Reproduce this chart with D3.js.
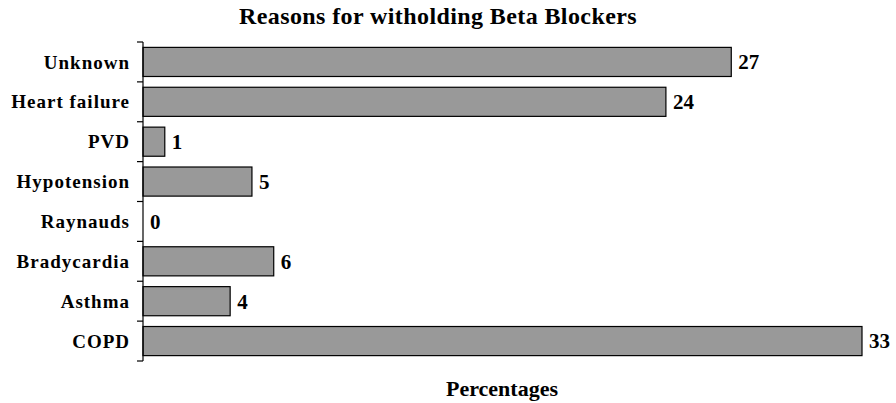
<!DOCTYPE html>
<html>
<head>
<meta charset="utf-8">
<script src="https://cdn.jsdelivr.net/npm/d3@7"></script>
<style>
  body { margin: 0; background: #fff; }
  svg text { font-family: "Liberation Serif", "Times New Roman", serif; font-weight: bold; fill: #000; }
</style>
</head>
<body>
<svg id="chart" width="896" height="403"></svg>
<script>
let categories = ['Unknown', 'Heart failure', 'PVD', 'Hypotension', 'Raynauds', 'Bradycardia', 'Asthma', 'COPD'];
let values = [27, 24, 1, 5, 0, 6, 4, 33];

let svg = d3.select('#chart');
let padding = {t: 42, r: 34, b: 42, l: 143};
let chartWidth = 862 - padding.l;
let chartHeight = 361 - padding.t;

let xScale = d3.scaleLinear().domain([0, 33]).range([0, chartWidth]);
let yScale = d3.scaleBand().domain(categories).range([0, chartHeight]).paddingInner(0.27).paddingOuter(0.135);

let g = svg.append('g')
    .attr('transform', `translate(${padding.l}, ${padding.t})`);

// bars
g.selectAll('rect.bar')
    .data(values)
    .enter()
    .append('rect')
    .attr('class', 'bar')
    .attr('x', 0)
    .attr('y', (d, i) => yScale(categories[i]))
    .attr('width', d => xScale(d))
    .attr('height', yScale.bandwidth())
    .attr('fill', d => d > 0 ? '#999999' : 'none')
    .attr('stroke', d => d > 0 ? '#000' : 'none')
    .attr('stroke-width', 1.2);

// value labels
g.selectAll('text.val')
    .data(values)
    .enter()
    .append('text')
    .attr('class', 'val')
    .attr('x', d => xScale(d) + 7)
    .attr('y', (d, i) => yScale(categories[i]) + yScale.bandwidth() / 2)
    .attr('dy', '0.35em')
    .style('font-size', '21px')
    .text(d => d);

// y axis: line plus ticks between categories
let yAxisG = g.append('g').attr('class', 'y axis');
yAxisG.append('line')
    .attr('x1', 0).attr('x2', 0)
    .attr('y1', 0).attr('y2', chartHeight)
    .attr('stroke', '#000').attr('stroke-width', 1.2);
let step = yScale.step();
let tickYs = d3.range(categories.length + 1).map(i => i * step);
yAxisG.selectAll('line.tick')
    .data(tickYs)
    .enter()
    .append('line')
    .attr('class', 'tick')
    .attr('x1', -6).attr('x2', 0)
    .attr('y1', d => d).attr('y2', d => d)
    .attr('stroke', '#000').attr('stroke-width', 1.2);

yAxisG.selectAll('text.cat')
    .data(categories)
    .enter()
    .append('text')
    .attr('class', 'cat')
    .attr('x', -13)
    .attr('y', d => yScale(d) + yScale.bandwidth() / 2)
    .attr('dy', '0.35em')
    .attr('text-anchor', 'end')
    .style('font-size', '19px')
    .style('letter-spacing', '1px')
    .text(d => d);

// title
svg.append('text')
    .attr('x', 438)
    .attr('y', 24)
    .attr('text-anchor', 'middle')
    .style('font-size', '24px')
    .style('letter-spacing', '0.4px')
    .text('Reasons for witholding Beta Blockers');

// x title
svg.append('text')
    .attr('x', 502)
    .attr('y', 396)
    .attr('text-anchor', 'middle')
    .style('font-size', '22px')
    .text('Percentages');
</script>
</body>
</html>
